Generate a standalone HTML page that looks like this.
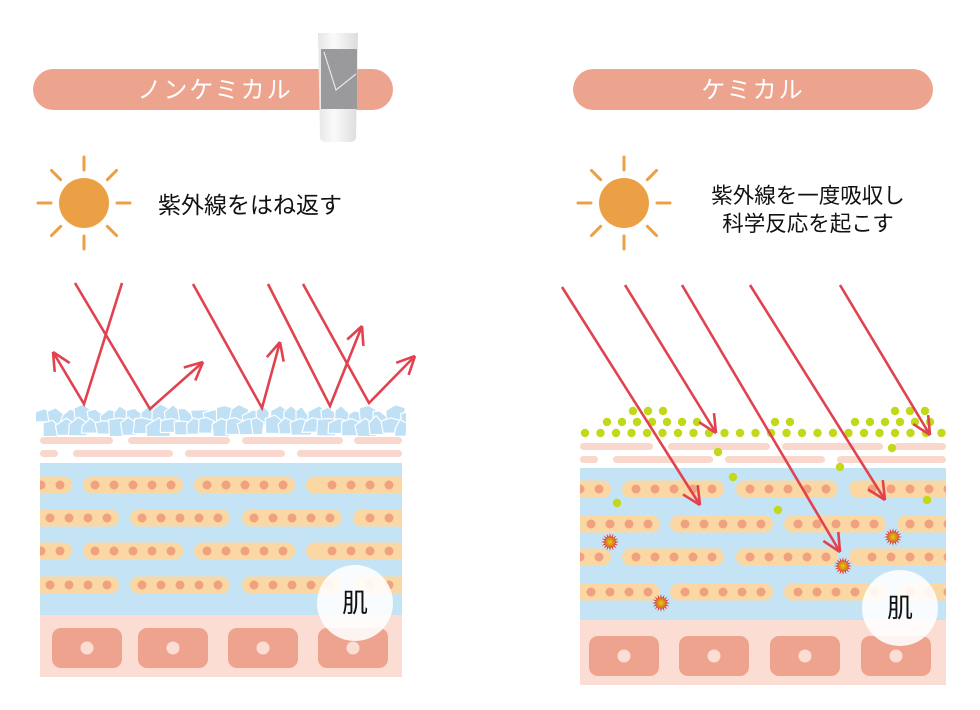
<!DOCTYPE html>
<html><head><meta charset="utf-8"><style>
html,body{margin:0;padding:0;background:#fff;}
svg{display:block}
text{font-family:"Liberation Sans","Noto Sans CJK JP",sans-serif;}
</style></head><body>
<svg id="s" width="980" height="710" viewBox="0 0 980 710" xmlns="http://www.w3.org/2000/svg">
<defs>
<linearGradient id="tube" x1="0" x2="1"><stop offset="0" stop-color="#e6e6e8"/><stop offset="0.4" stop-color="#fafafa"/><stop offset="1" stop-color="#dcdcde"/></linearGradient>
<radialGradient id="burst"><stop offset="0" stop-color="#d8d020"/><stop offset="1" stop-color="#e07010"/></radialGradient>
</defs>
<rect x="33" y="69" width="360" height="41" rx="20.5" fill="#eda48e"/>
<text x="215" y="98" font-size="24" fill="#fff" text-anchor="middle" letter-spacing="2">ノンケミカル</text>
<rect x="573" y="69" width="360" height="41" rx="20.5" fill="#eda48e"/>
<text x="753" y="98" font-size="24" fill="#fff" text-anchor="middle" letter-spacing="2">ケミカル</text>
<path d="M318 33 L358 33 L356 138 Q355 142 350 142 L326 142 Q321 142 320 138 Z" fill="url(#tube)"/>
<rect x="321" y="49" width="36" height="60" fill="#9a9a9c"/>
<path d="M324 52 L336 90 L356 74" stroke="#e8e8e8" stroke-width="1.2" fill="none"/>
<text x="158" y="213" font-size="23" fill="#111">紫外線をはね返す</text>
<text x="808" y="203" font-size="21.5" fill="#111" text-anchor="middle">紫外線を一度吸収し</text>
<text x="808" y="231" font-size="21.5" fill="#111" text-anchor="middle">科学反応を起こす</text>
<g id="g"></g>
</svg>
<script>
var g=document.getElementById('g'),h='';
function sun(cx,cy){h+='<circle cx="'+cx+'" cy="'+cy+'" r="25" fill="#eba045"/>';
for(var i=0;i<8;i++){var a=i*Math.PI/4,c=Math.cos(a),s=Math.sin(a);
h+='<line x1="'+(cx+c*33)+'" y1="'+(cy+s*33)+'" x2="'+(cx+c*46)+'" y2="'+(cy+s*46)+'" stroke="#eba045" stroke-width="3" stroke-linecap="round"/>';}}
sun(84,203);sun(624,203);
function skin(x0,x1,yb,yblue,ybot,yend,rows,rowA,rowB,cells,cy){
 var bands1=[[0,73],[88,190],[202,303],[314,999]],bands2=[[0,18],[33,133],[145,245],[257,999]];
 bands1.forEach(function(b){var a=x0+b[0],e=Math.min(x0+b[1],x1);h+='<rect x="'+a+'" y="'+yb+'" width="'+(e-a)+'" height="7" rx="3.5" fill="#f9d7cc"/>';});
 bands2.forEach(function(b){var a=x0+b[0],e=Math.min(x0+b[1],x1);h+='<rect x="'+a+'" y="'+(yb+13)+'" width="'+(e-a)+'" height="7" rx="3.5" fill="#f9d7cc"/>';});
 h+='<rect x="'+x0+'" y="'+yblue+'" width="'+(x1-x0)+'" height="'+(ybot-yblue)+'" fill="#c4e4f5"/>';
 h+='<rect x="'+x0+'" y="'+ybot+'" width="'+(x1-x0)+'" height="'+(yend-ybot)+'" fill="#fbddd3"/>';
 h+='<clipPath id="c'+x0+'"><rect x="'+x0+'" y="'+yblue+'" width="'+(x1-x0)+'" height="'+(ybot-yblue)+'"/></clipPath><g clip-path="url(#c'+x0+')">';
 rows.forEach(function(ry,i){var pat=i%2?rowB:rowA;pat.forEach(function(p){var a=p[0],e=p[1];
  h+='<rect x="'+a+'" y="'+(ry-8.5)+'" width="'+(e-a)+'" height="17" rx="8.5" fill="#fbd7a4"/>';
  var n=Math.round((e-a-14)/19);for(var k=0;k<Math.max(n,1);k++){var dx=e-12-k*19;if(dx<a+6&&a>x0)break;h+='<circle cx="'+dx+'" cy="'+ry+'" r="4.5" fill="#f0a280"/>';}
 });});
 h+='</g>';
 cells.forEach(function(c){h+='<rect x="'+c+'" y="'+cy+'" width="70" height="40" rx="9" fill="#eda38e"/><circle cx="'+(c+35)+'" cy="'+(cy+20)+'" r="6.5" fill="#fbddd3"/>';});
}
skin(40,402,437,463,615,677,[485,518,551,585],[[20,72],[83,183],[194,295],[306,420]],[[20,119],[130,230],[242,342],[353,420]],[52,138,228,318],628);
skin(580,946,443,468,620,685,[489,524,557,592],[[560,611],[622,724],[736,838],[849,960]],[[560,660],[670,773],[784,886],[897,960]],[589,679,770,861],636);
// ice
var seed=7;function r(){seed=(seed*9301+49297)%233280;return seed/233280;}
h+='<clipPath id="ice"><rect x="36" y="400" width="370" height="36"/></clipPath><g clip-path="url(#ice)">';
for(var row=0;row<2;row++){
for(var x=34+row*8;x<402;x+=13){var y=row?418+r()*4:406+r()*6,w=14+r()*12,hh=12+r()*8;
 h+='<polygon points="'+(x+r()*4)+','+(y+hh)+' '+(x+r()*3)+','+(y+r()*6)+' '+(x+w*0.5)+','+(y-r()*3)+' '+(x+w)+','+(y+r()*hh*0.5)+' '+(x+w-r()*3)+','+(y+hh)+'" fill="#c0e0f5" stroke="#fff" stroke-width="1.2"/>';}}
h+='</g>';
function gd(x,y){h+='<circle cx="'+x+'" cy="'+y+'" r="4.2" fill="#c3d81a"/>';}
for(var x=585;x<946;x+=15.5)gd(x,433);
[[607,422],[622,422],[637,422],[652,422],[667,422],[682,422],[697,422],[775,422],[790,422],[855,422],[870,422],[885,422],[900,422],[915,422],[930,422],[633,411],[648,411],[663,411],[895,411],[910,411],[925,411],
[718,452],[733,477],[617,503],[778,510],[892,448],[840,467],[927,500]].forEach(function(p){gd(p[0],p[1]);});
function burst(cx,cy){var pts='';for(var i=0;i<32;i++){var a=i*Math.PI/16,rr=i%2?5:9;pts+=(cx+Math.cos(a)*rr)+','+(cy+Math.sin(a)*rr)+' ';}
 h+='<polygon points="'+pts+'" fill="#e04040"/><circle cx="'+cx+'" cy="'+cy+'" r="5" fill="url(#burst)"/>';}
burst(610,542);burst(661,603);burst(843,566);burst(893,537);
[[355,603],[900,608]].forEach(function(c){h+='<circle cx="'+c[0]+'" cy="'+c[1]+'" r="38" fill="#fff" fill-opacity="0.88"/><text x="'+c[0]+'" y="'+(c[1]+9)+'" font-size="26" text-anchor="middle" fill="#111">肌</text>';});
var R='#e0434f';
function arrow(pts){var d='M'+pts.map(function(p){return p.join(' ')}).join(' L');
 h+='<path d="'+d+'" stroke="'+R+'" stroke-width="2.6" fill="none" stroke-linejoin="miter"/>';
 var a=pts[pts.length-2],b=pts[pts.length-1],ang=Math.atan2(b[1]-a[1],b[0]-a[0]),L=20;
 [0.45,-0.45].forEach(function(o){h+='<line x1="'+b[0]+'" y1="'+b[1]+'" x2="'+(b[0]-L*Math.cos(ang+o))+'" y2="'+(b[1]-L*Math.sin(ang+o))+'" stroke="'+R+'" stroke-width="2.6"/>';});}
arrow([[75,283],[150,409],[203,362]]);
arrow([[122,283],[84,404],[53,352]]);
arrow([[193,284],[262,408],[280,342]]);
arrow([[268,284],[330,406],[362,326]]);
arrow([[303,284],[369,403],[415,356]]);
arrow([[562,287],[700,505]]);
arrow([[625,285],[716,433]]);
arrow([[682,285],[840,552]]);
arrow([[750,285],[885,500]]);
arrow([[840,285],[930,435]]);
g.innerHTML=h;
</script>
</body></html>
